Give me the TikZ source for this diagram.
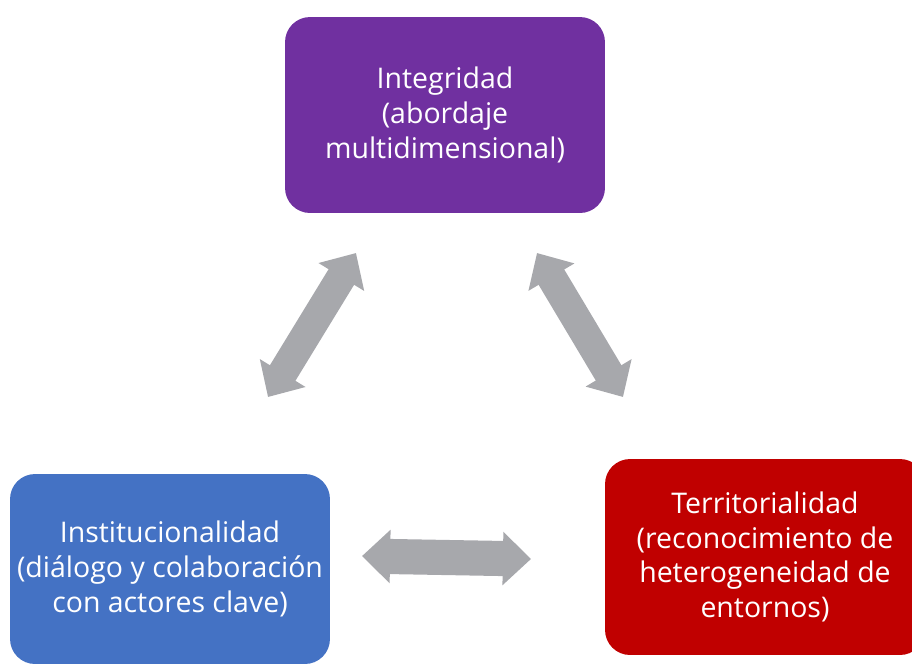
\documentclass[tikz,border=0pt]{standalone}
\usepackage{fontspec}
\setmainfont{Open Sans}
\usepackage{tikz}
\usetikzlibrary{arrows.meta}
\usepackage{xcolor}
\definecolor{violeta}{HTML}{7030A0}
\definecolor{azul}{HTML}{4472C4}
\definecolor{rojo}{HTML}{C00000}
\definecolor{gris}{HTML}{A7A8AC}
\tikzstyle{caja}=[rectangle, rounded corners=0.5cm, text=white, align=center, minimum width=6.4cm, inner sep=0pt, font=\fontsize{16.2}{19.8}\selectfont]
\tikzstyle{flecha}=[draw=gris, line width=17pt, {Triangle[length=16pt,width=29.5pt]}-{Triangle[length=16pt,width=29.5pt]}]

\begin{document}
\begin{tikzpicture}[x=0.02cm,y=-0.02cm]
\useasboundingbox (0,0) rectangle (912,664);
\clip (0,0) rectangle (912,664);
\node[caja, fill=violeta, minimum height=3.92cm] (integ) at (445,115) {Integridad\\(abordaje\\multidimensional)};
\node[caja, fill=azul, minimum height=3.8cm] (inst) at (170,569) {Institucionalidad\\(diálogo y colaboración\\con actores clave)};
\node[caja, fill=rojo, minimum height=3.92cm] (terr) at (765,557) {Territorialidad\\(reconocimiento de\\heterogeneidad de\\entornos)};
\coordinate (li) at (268,397);
\coordinate (ls) at (356,253);
\coordinate (rs) at (537,253);
\coordinate (ri) at (623,397);
\coordinate (bi) at (362,556);
\coordinate (bd) at (531,559);
\draw[flecha] (li) -- (ls);
\draw[flecha] (rs) -- (ri);
\draw[flecha, line width=20pt] (bi) -- (bd);
\end{tikzpicture}
\end{document}
